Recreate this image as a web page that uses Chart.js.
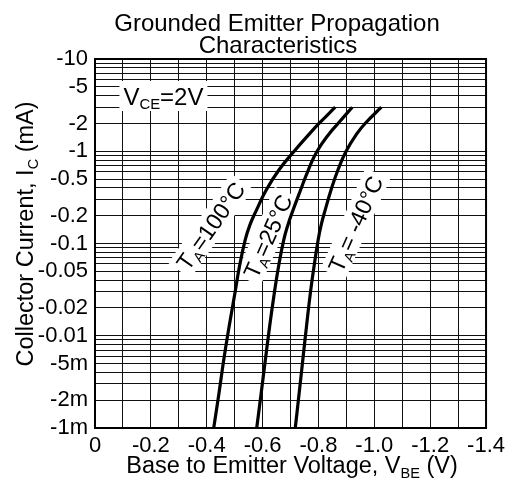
<!DOCTYPE html>
<html>
<head>
<meta charset="utf-8">
<script src="https://cdn.jsdelivr.net/npm/chart.js@4/dist/chart.umd.min.js"></script>
<style>
  html, body { margin: 0; padding: 0; background: #fff; }
  #wrap { width: 510px; height: 482px; position: relative; }
</style>
</head>
<body>
<div id="wrap"><canvas id="chart"></canvas></div>
<script>
'use strict'

// collector current (mA, magnitude) shared by the three curves
const collectorCurrent = [0.001, 0.0024, 0.0055, 0.0125, 0.029, 0.056, 0.11, 0.16, 0.23, 0.38, 0.63, 1.0, 1.57, 2.0, 3.0];
// base-emitter voltage (V) for each ambient temperature
const vbe100 = [-0.425, -0.444, -0.461, -0.480, -0.501, -0.517, -0.538, -0.555, -0.578, -0.613, -0.659, -0.713, -0.770, -0.802, -0.860];
const vbe25 = [-0.579, -0.595, -0.610, -0.625, -0.642, -0.657, -0.676, -0.691, -0.709, -0.736, -0.764, -0.795, -0.840, -0.870, -0.921];
const vbeM40 = [-0.717, -0.731, -0.744, -0.757, -0.771, -0.784, -0.799, -0.810, -0.824, -0.845, -0.870, -0.899, -0.939, -0.967, -1.025];

// tick / grid values
const xGridValues = [0, -0.1, -0.2, -0.3, -0.4, -0.5, -0.6, -0.7, -0.8, -0.9, -1.0, -1.1, -1.2, -1.3, -1.4];
const xLabelValues = [0, -0.2, -0.4, -0.6, -0.8, -1.0, -1.2, -1.4];
const xLabelTexts = ['0', '-0.2', '-0.4', '-0.6', '-0.8', '-1.0', '-1.2', '-1.4'];
const yDecades = [0.001, 0.01, 0.1, 1];
const yLabelValues = [10, 5, 2, 1, 0.5, 0.2, 0.1, 0.05, 0.02, 0.01, 0.005, 0.002, 0.001];
const yLabelTexts = ['-10', '-5', '-2', '-1', '-0.5', '-0.2', '-0.1', '-0.05', '-0.02', '-0.01', '-5m', '-2m', '-1m'];

const FONT = '"Liberation Sans", Arial, Helvetica, sans-serif';

function buildYGrid() {
    const vals = [];
    yDecades.forEach(d => {
        for (let k = 1; k <= 9; k++) vals.push(+(d * k).toPrecision(3));
    });
    vals.push(10);
    return vals;
}

function findLabel(value, values, texts) {
    for (let i = 0; i < values.length; i++) {
        if (Math.abs(value - values[i]) < Math.abs(values[i]) * 1e-6 + 1e-9) return texts[i];
    }
    return '';
}

function makeSet(vbe) {
    return {
        data: vbe.map((v, i) => ({ x: v, y: collectorCurrent[i] })),
        borderColor: '#000',
        borderWidth: 3.2,
        pointRadius: 0,
        tension: 0.45,
        fill: false
    };
}

// text with subscripts: parts = [[text, isSub], ...]
function drawRich(ctx, parts, size, cx, cy, angle, box) {
    ctx.save();
    ctx.translate(cx, cy);
    ctx.rotate(-angle * Math.PI / 180);
    let w = 0;
    const widths = parts.map(p => {
        ctx.font = (p[1] ? size * 0.62 : size) + 'px ' + FONT;
        const m = ctx.measureText(p[0]).width;
        w += m;
        return m;
    });
    if (box) {
        ctx.fillStyle = '#fff';
        ctx.fillRect(-w / 2 - box[0], -size * 0.5 - box[1], w + box[0] * 2, size + box[1] * 2);
    }
    ctx.fillStyle = '#000';
    ctx.textBaseline = 'alphabetic';
    ctx.textAlign = 'left';
    let x = -w / 2;
    parts.forEach((p, i) => {
        ctx.font = (p[1] ? size * 0.62 : size) + 'px ' + FONT;
        ctx.fillText(p[0], x, size * 0.358 + (p[1] ? size * 0.2 : 0));
        x += widths[i];
    });
    ctx.restore();
}

// annotations (data coordinates)
const notes = [
    { parts: [['V', false], ['CE', true], ['=2V', false]], x: -0.245, y: 3.97, size: 24, angle: 0, box: [4, 3] },
    { parts: [['T', false], ['A', true], ['=100°C', false]], x: -0.414, y: 0.155, size: 23, angle: 55, box: [4, 2] },
    { parts: [['T', false], ['A', true], ['=25°C', false]], x: -0.618, y: 0.12, size: 23, angle: 66, box: [4, 2] },
    { parts: [['T', false], ['A', true], ['= -40°C', false]], x: -0.932, y: 0.163, size: 23, angle: 66, box: [4, 2] }
];

const notesPlugin = {
    id: 'notes',
    beforeDatasetsDraw(chart) {
        const ctx = chart.ctx;
        const xs = chart.scales.x, ys = chart.scales.y;
        notes.forEach(n => {
            drawRich(ctx, n.parts, n.size, xs.getPixelForValue(n.x), ys.getPixelForValue(n.y), n.angle, n.box);
        });
    },
    afterDraw(chart) {
        const ctx = chart.ctx;
        const a = chart.chartArea;
        ctx.save();
        ctx.strokeStyle = '#000';
        ctx.lineWidth = 2;
        ctx.strokeRect(a.left, a.top, a.right - a.left, a.bottom - a.top);
        ctx.restore();
        // chart title
        drawRich(ctx, [['Grounded Emitter Propagation', false]], 24, 277, 22, 0, null);
        drawRich(ctx, [['Characteristics', false]], 24, 278, 44, 0, null);
        // axis titles
        drawRich(ctx, [['Base to Emitter Voltage, V', false], ['BE', true], [' (V)', false]], 23.5, 292, 465, 0, null);
        drawRich(ctx, [['Collector Current, I', false], ['C', true], [' (mA)', false]], 23.5, 25, 234, 90, null);
    }
};

const yGridValues = buildYGrid();

new Chart(document.getElementById('chart'), {
    type: 'line',
    data: { datasets: [makeSet(vbe100), makeSet(vbe25), makeSet(vbeM40)] },
    options: {
        responsive: true,
        maintainAspectRatio: false,
        animation: false,
        layout: { padding: { top: 59, right: 23, left: 0, bottom: 0 } },
        plugins: { legend: { display: false }, title: { display: false }, tooltip: { enabled: false } },
        scales: {
            x: {
                type: 'linear',
                reverse: true,
                min: -1.4,
                max: 0,
                afterBuildTicks(scale) { scale.ticks = xGridValues.map(v => ({ value: v })); },
                afterFit(scale) { scale.height = 54; },
                grid: { color: '#111', lineWidth: 1, drawTicks: false },
                border: { display: false },
                ticks: {
                    autoSkip: false, maxRotation: 0, padding: 5, color: '#000',
                    font: { family: FONT, size: 22 },
                    callback: v => findLabel(v, xLabelValues, xLabelTexts)
                }
            },
            y: {
                type: 'logarithmic',
                min: 0.001,
                max: 10,
                afterBuildTicks(scale) { scale.ticks = yGridValues.map(v => ({ value: v })); },
                afterFit(scale) { scale.width = 95; },
                grid: { color: '#111', lineWidth: 1, drawTicks: false },
                border: { display: false },
                ticks: {
                    autoSkip: false, padding: 7, color: '#000',
                    font: { family: FONT, size: 22 },
                    callback: v => findLabel(v, yLabelValues, yLabelTexts)
                }
            }
        }
    },
    plugins: [notesPlugin]
});
</script>
</body>
</html>
